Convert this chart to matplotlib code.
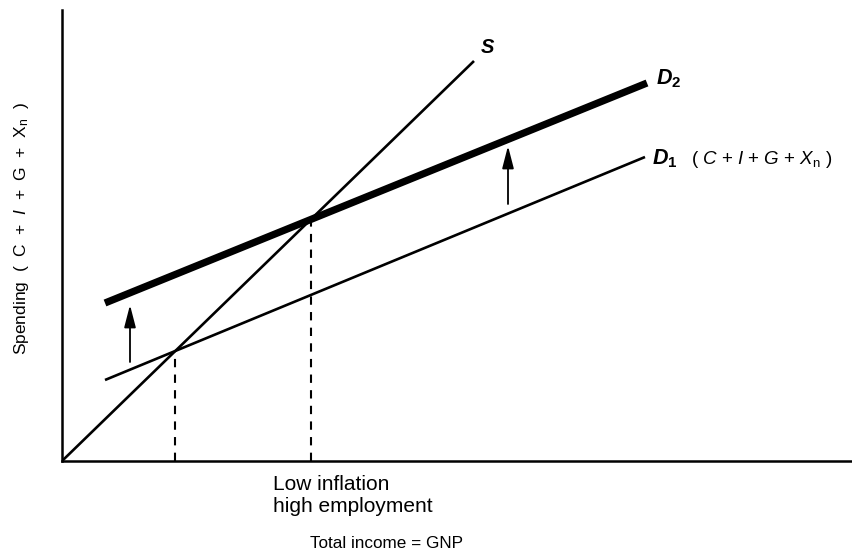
import matplotlib
matplotlib.use("Agg")
import matplotlib.pyplot as plt
import numpy as np

plt.rcParams['font.family'] = ['Liberation Sans', 'DejaVu Sans']
plt.rcParams['mathtext.fontset'] = 'custom'
plt.rcParams['mathtext.rm'] = 'Liberation Sans'
plt.rcParams['mathtext.it'] = 'Liberation Sans:italic'
plt.rcParams['mathtext.bf'] = 'Liberation Sans:bold'
plt.rcParams['mathtext.bfit'] = 'Liberation Sans:italic:bold'

# Line endpoints (data units)
s_x = [0, 412]
s_y = [0, 400]
d1_x = [43, 583]
d1_y = [81, 304]
d2_x = [43, 585]
d2_y = [158, 378]
# Shift arrows: (x, y_start, y_end)
arrow_left = (68, 99, 156)
arrow_right = (446, 257, 315)

fig = plt.figure(figsize=(8.53, 5.56), dpi=100)
ax = fig.add_axes([62/853, 95/556, (853-62)/853, (461-10)/556])
ax.set_xlim(0, 791)
ax.set_ylim(0, 451)
for side in ['top', 'right']:
    ax.spines[side].set_visible(False)
for side in ['left', 'bottom']:
    ax.spines[side].set_linewidth(1.8)
ax.set_xticks([])
ax.set_yticks([])

ax.plot(s_x, s_y, color='black', lw=1.9, solid_capstyle='butt')
ax.plot(d1_x, d1_y, color='black', lw=1.9, solid_capstyle='butt')
ax.plot(d2_x, d2_y, color='black', lw=5.2, solid_capstyle='butt')

def line_params(xs, ys):
    m = (ys[1] - ys[0]) / (xs[1] - xs[0])
    return m, ys[0] - m * xs[0]

ms, bs = line_params(s_x, s_y)
for xs, ys in [(d1_x, d1_y), (d2_x, d2_y)]:
    m, b = line_params(xs, ys)
    xi = (b - bs) / (ms - m)
    yi = ms * xi + bs
    ax.plot([xi, xi], [0, yi], color='black', lw=1.5, dashes=(4, 3.5))

for (x, y0, y1) in [arrow_left, arrow_right]:
    ax.annotate('', xy=(x, y1), xytext=(x, y0),
                arrowprops=dict(arrowstyle='-|>,head_length=0.85,head_width=0.22',
                                color='black', lw=1.3,
                                mutation_scale=16, shrinkA=0, shrinkB=0))

ax.text(s_x[1] + 6, s_y[1] + 4, r'$\mathbfit{S}$', fontsize=14.5,
        ha='left', va='bottom')
ax.text(d2_x[1] + 9, d2_y[1] + 4, r'$\mathbfit{D}_\mathbf{2}$', fontsize=15.5,
        ha='left', va='center')
ax.text(d1_x[1] + 7, d1_y[1] - 2, r'$\mathbfit{D}_\mathbf{1}$', fontsize=15.5,
        ha='left', va='center')
ax.text(d1_x[1] + 46, d1_y[1] - 2,
        r'( $\mathit{C}$ + $\mathit{I}$ + $\mathit{G}$ + $\mathit{X}_{\mathrm{n}}$ )',
        fontsize=13.5, ha='left', va='center')

fig.text(22/853, 1 - 228/556,
         r'Spending  (  C  +  $\mathit{I}$  +  G  +  X$_\mathrm{n}$  )',
         rotation=90, fontsize=12.5, ha='center', va='center')

fig.text(273/853, 1 - 495/556, 'Low inflation\nhigh employment', fontsize=15,
         ha='left', va='center', linespacing=1.2)
fig.text(387/853, 1 - 543/556, 'Total income = GNP', fontsize=12.3,
         ha='center', va='center')

fig.savefig('out.png', dpi=100)
